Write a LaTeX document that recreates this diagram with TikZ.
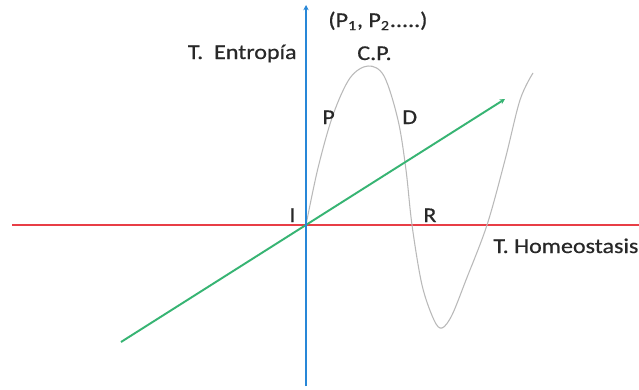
\documentclass[tikz,border=0pt]{standalone}
\usepackage{fontspec}
\setmainfont[FakeStretch=1.14,FakeBold=0.6]{Carlito}
\usetikzlibrary{arrows.meta}
\definecolor{axblue}{RGB}{40,135,215}
\definecolor{axred}{RGB}{232,62,70}
\definecolor{lngreen}{RGB}{55,180,115}
\definecolor{crvgray}{RGB}{185,185,185}
\definecolor{txt}{RGB}{40,40,40}
\tikzset{
  lbl/.style={inner sep=0pt, text=txt, font=\fontsize{12}{14}\selectfont},
  axisline/.style={line width=1.1pt},
}
\begin{document}
\begin{tikzpicture}[x=0.02cm,y=-0.02cm]
\path[use as bounding box, fill=white] (0,0) rectangle (639,389);
% axes
\coordinate (vb) at (306,386);
\coordinate (vt) at (306,5);
\coordinate (hl) at (12,225);
\coordinate (hr) at (639,225);
\coordinate (O) at (306,225);
\coordinate (gs) at (121,342);
\coordinate (ge) at (505,99);
\draw[axisline, axred] (hl) -- (hr);
\draw[crvgray, line width=0.6pt] plot[smooth, tension=0.55] coordinates {
 (306,225) (318,168) (333,115) (350,78) (368,66) (384,76) (398,120) (406,170) (412,225) (422,285) (434,320) (442,328) (452,315) (466,280) (487,225) (505,160) (520,100) (533,73)};
\draw[axisline, lngreen, -{Stealth[length=3pt,width=3pt]}] (gs) -- (ge);
\draw[axisline, axblue, -{Stealth[length=3pt,width=3pt]}] (vb) -- (vt);
% labels
\node[lbl, anchor=base west] (pp) at (328,27) {(P\textsubscript{1}, P\textsubscript{2}.....)};
\node[lbl, anchor=base east] (te) at (297,59) {T.\ \ Entropía};
\node[lbl, anchor=base west] (cp) at (357,60) {C.P.};
\node[lbl, anchor=base west] (p) at (322,124) {P};
\node[lbl, anchor=base west] (d) at (402,124) {D};
\node[lbl, anchor=base west] (i) at (289,222) {I};
\node[lbl, anchor=base west] (r) at (423,222) {R};
\node[lbl, anchor=base west] (th) at (493,253) {T. Homeostasis};
\end{tikzpicture}
\end{document}
